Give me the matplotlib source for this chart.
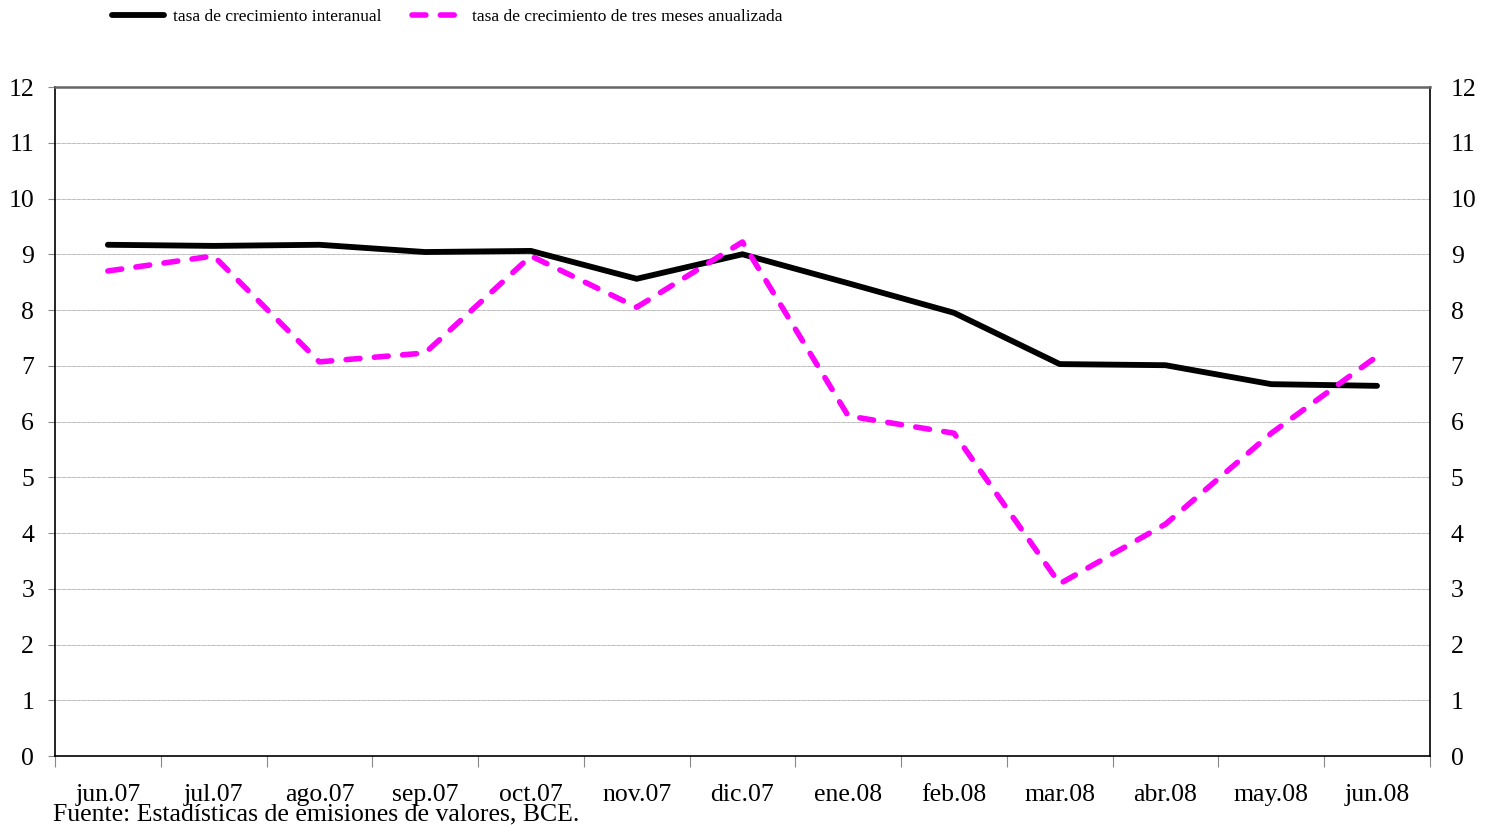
import matplotlib.pyplot as plt
import numpy as np

plt.rcParams["font.family"] = ["Liberation Serif", "DejaVu Serif"]

months = ["jun.07", "jul.07", "ago.07", "sep.07", "oct.07", "nov.07", "dic.07",
          "ene.08", "feb.08", "mar.08", "abr.08", "may.08", "jun.08"]
interanual = [9.17, 9.15, 9.17, 9.04, 9.06, 8.56, 9.00, 8.48, 7.95, 7.03, 7.01, 6.67, 6.64]
tres_meses = [8.70, 8.97, 7.07, 7.23, 8.97, 8.05, 9.22, 6.10, 5.79, 3.09, 4.16, 5.79, 7.17]
y_ticks = list(range(0, 13))

fig = plt.figure(figsize=(14.94, 8.27), dpi=100)
ax = fig.add_axes([0.0368, 0.0858, 0.9203, 0.809])
x = np.arange(len(months))

ax.plot(x, interanual, color="black", lw=4.2, solid_capstyle="round",
        solid_joinstyle="miter", label="tasa de crecimiento interanual")
ax.plot(x, tres_meses, color="#ff00ff", lw=4.0, linestyle=(0, (2.5, 2.6)),
        dash_capstyle="round", label="tasa de crecimiento de tres meses anualizada")

ax.set_xlim(-0.5, len(months) - 0.5)
ax.set_ylim(0, 12)
ax.set_yticks(y_ticks)

# category axis: tick marks between months, labels centred on months
ax.set_xticks(np.arange(len(months) + 1) - 0.5)
ax.set_xticklabels([])
ax.set_xticks(x, minor=True)
ax.set_xticklabels(months, minor=True)
ax.tick_params(axis="x", which="major", direction="out", length=8, color="#888888")
ax.tick_params(axis="x", which="minor", length=0, pad=20, labelsize=18.5)
ax.tick_params(axis="y", which="major", direction="out", length=5, color="#888888",
               pad=10, labelsize=18.5, labelright=True, right=False)

ax.grid(axis="y", color="#999999", lw=0.6, linestyle=(0, (1, 0.5)))
for s in ax.spines.values():
    s.set_linewidth(1.2)
ax.spines["top"].set_color("#666666")
ax.spines["top"].set_linewidth(1.8)

handles, labels = ax.get_legend_handles_labels()
fig.legend(handles, labels, loc="upper left", bbox_to_anchor=(0.0645, 1.008), ncol=2,
           frameon=False, fontsize=12.5, handlelength=3.0, columnspacing=1.75,
           handletextpad=0.5)

fig.text(0.0355, 0.002, "Fuente: Estadísticas de emisiones de valores, BCE.",
         fontsize=18.5, ha="left", va="bottom")

fig.savefig("out.png", dpi=100)
